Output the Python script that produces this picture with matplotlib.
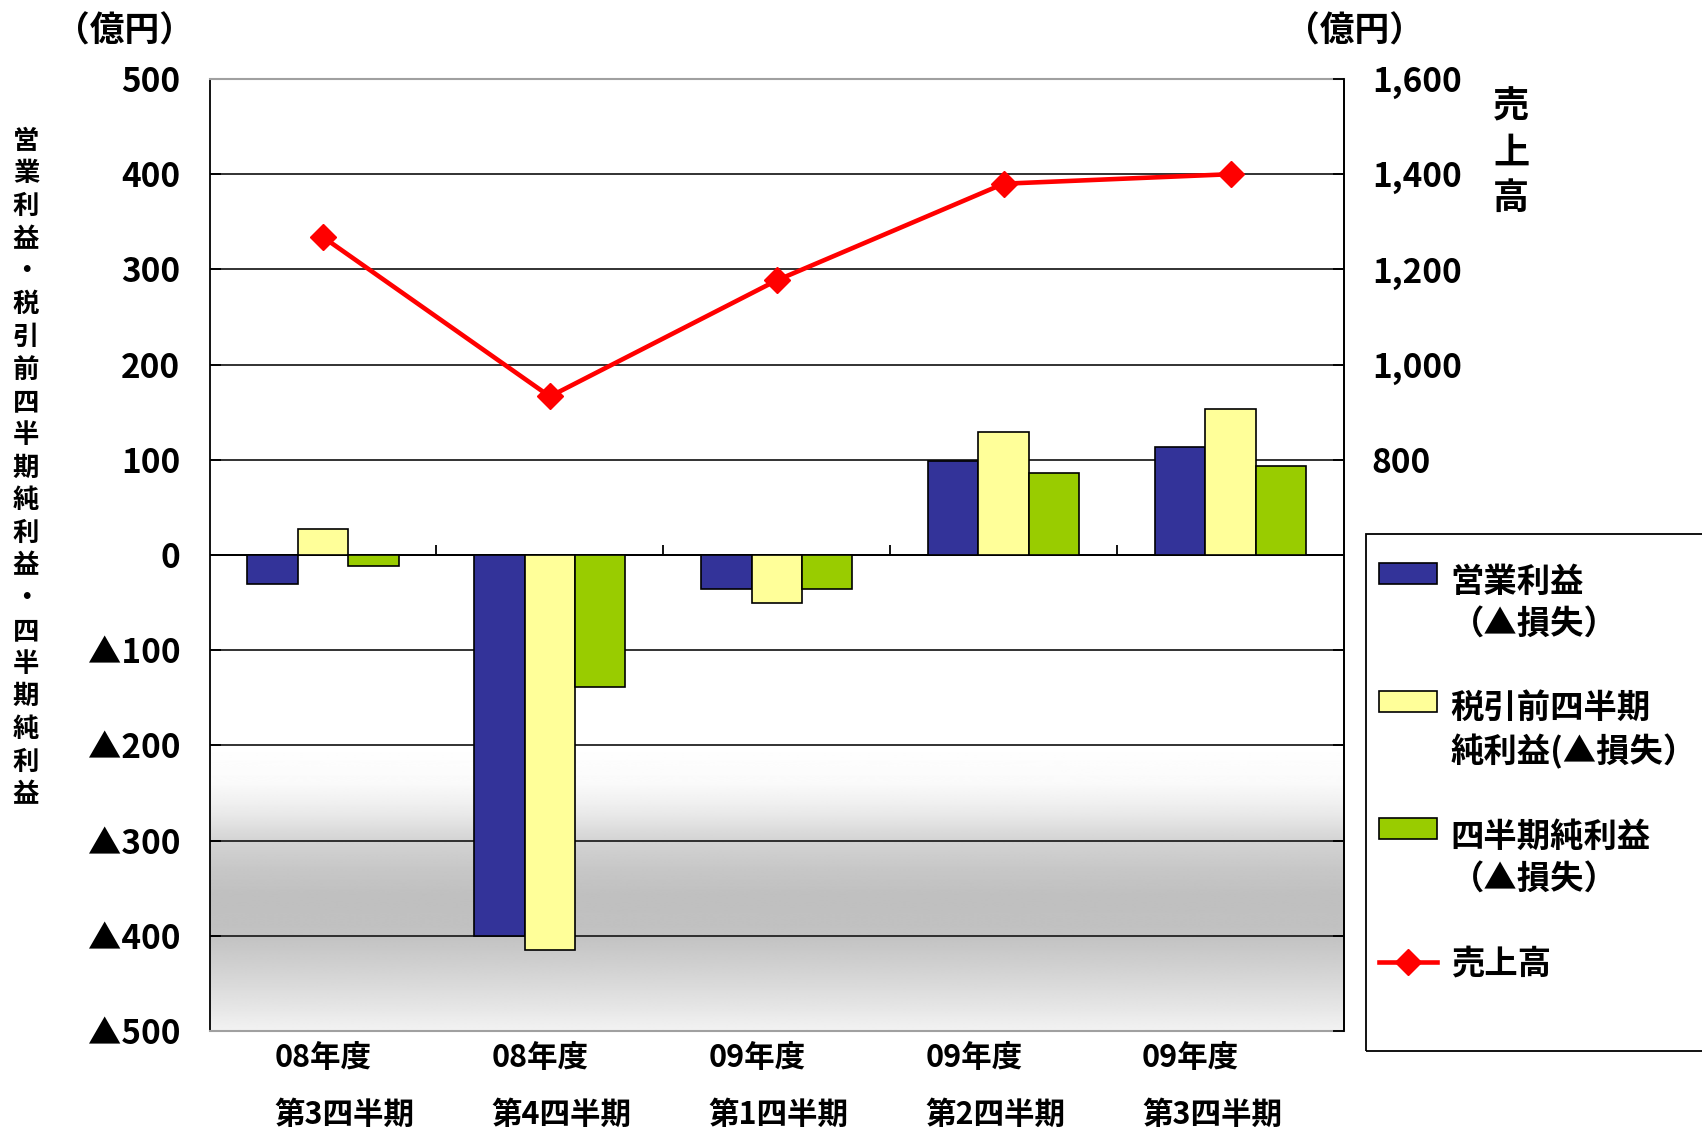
import numpy as np
import matplotlib
matplotlib.use("Agg")
import matplotlib.pyplot as plt
from matplotlib.patches import Rectangle
from matplotlib.ticker import FuncFormatter
from matplotlib.legend_handler import HandlerPatch

plt.rcParams['font.family'] = ['Noto Sans CJK JP', 'DejaVu Sans']
plt.rcParams['font.weight'] = 'bold'

# ---- data ----
cat_year = ['08年度', '08年度', '09年度', '09年度', '09年度']
cat_quarter = ['第3四半期', '第4四半期', '第1四半期', '第2四半期', '第3四半期']
operating = [-30, -400, -36, 99, 113]
pretax = [27, -415, -50, 129, 153]
net = [-12, -139, -36, 86, 93]
sales = [1268, 933, 1177, 1380, 1400]
series_names = ['営業利益\n（▲損失）', '税引前四半期\n純利益(▲損失）', '四半期純利益\n（▲損失）', '売上高']
left_ticks = [500, 400, 300, 200, 100, 0, -100, -200, -300, -400, -500]
right_ticks = [-400, -200, 0, 200, 400, 600, 800, 1000, 1200, 1400, 1600]

# ---- style ----
c_blue, c_yellow, c_green, c_red = '#333399', '#FFFF99', '#99CC00', '#FF0000'
W, H = 1702, 1131
fig = plt.figure(figsize=(W / 100, H / 100), dpi=100)
ax = fig.add_axes([209.5 / W, 1 - 1031 / H, (1344 - 209.5) / W, (1031 - 79) / H])

n = len(cat_year)
x = np.arange(n)
ax.set_xlim(-0.5, n - 0.5)
ax.set_ylim(-500, 500)

# gradient background
stops_v = [-500, -450, -400, -360, -330, -300, -270, -240, -200]
stops_g = [0.95, 0.85, 0.76, 0.75, 0.78, 0.83, 0.92, 0.98, 1.0]
yy = np.linspace(-500, -200, 300)
gg = np.interp(yy, stops_v, stops_g)
img = np.repeat(gg[:, None], 2, axis=1)
ax.imshow(img, extent=[-0.5, n - 0.5, -500, -200], origin='lower', cmap='gray',
          vmin=0, vmax=1, aspect='auto', zorder=0, interpolation='bilinear')

# gridlines
ax.set_yticks(left_ticks)
ax.grid(axis='y', color='#222222', linewidth=1.3, zorder=1)
ax.set_axisbelow(True)
ax.axhline(0, color='black', linewidth=1.4, zorder=1.5)

bw = 0.222
bars = []
for k, (vals, col) in enumerate(zip([operating, pretax, net], [c_blue, c_yellow, c_green])):
    bc = ax.bar(x + (k - 1) * bw, vals, width=bw, color=col, edgecolor='black',
                linewidth=1.2, zorder=2, label=series_names[k])
    bars.append(bc)

# category boundary ticks on zero line
ax.vlines(x[:-1] + 0.5, 0, 11, color='black', linewidth=1.3, zorder=1.6)

ax.set_xticks([])
ax.tick_params(axis='y', direction='in', length=8, width=1.3, pad=21, labelsize=24)
ax.yaxis.set_major_formatter(FuncFormatter(lambda v, p: f'{int(v)}' if v >= 0 else f'▲{int(-v)}'))
for lab in ax.get_yticklabels():
    lab.set_fontweight('bold')

ax.spines['left'].set_color('black')
ax.spines['left'].set_linewidth(1.3)
ax.spines['right'].set_color('black')
ax.spines['right'].set_linewidth(1.3)
ax.spines['top'].set_color('#a0a0a0')
ax.spines['top'].set_linewidth(1.5)
ax.spines['bottom'].set_color('#a0a0a0')
ax.spines['bottom'].set_linewidth(1.5)

ax2 = ax.twinx()
ax2.set_ylim(-400, 1600)
ax2.set_yticks(right_ticks)
ax2.yaxis.set_major_formatter(FuncFormatter(lambda v, p: f'{int(v):,}' if v >= 800 else ''))
ax2.tick_params(axis='y', direction='in', length=8, width=1.3, pad=20, labelsize=24)
for lab in ax2.get_yticklabels():
    lab.set_fontweight('bold')
for s in ['left', 'top', 'bottom']:
    ax2.spines[s].set_visible(False)
ax2.spines['right'].set_color('black')
ax2.spines['right'].set_linewidth(1.3)
line, = ax2.plot(x, sales, color=c_red, linewidth=3.3, marker='D', markersize=13,
                 zorder=5, label=series_names[3])

# category labels (two lines, left-aligned block)
for i in range(n):
    xf = (253 - 193) / 1045 + i * 199.75 / 1045
    ax.text(xf, 1 - (1058 - 79) / 952, cat_year[i], transform=ax.transAxes,
            ha='left', va='center', fontsize=22, fontweight='bold', clip_on=False)
    ax.text(xf, 1 - (1115 - 79) / 952, cat_quarter[i], transform=ax.transAxes,
            ha='left', va='center', fontsize=22, fontweight='bold', clip_on=False)

# units
fig.text(125 / W, 1 - 31 / H, '（億円）', ha='center', va='center', fontsize=25, fontweight='bold')
fig.text(1354 / W, 1 - 31 / H, '（億円）', ha='center', va='center', fontsize=25, fontweight='bold')

# axis titles (stacked vertical)
left_title = '営業利益・税引前四半期純利益・四半期純利益'
fig.text(26 / W, 1 - 468 / H, '\n'.join(left_title), ha='center', va='center',
         fontsize=19, fontweight='bold', linespacing=1.27)
fig.text(1511 / W, 1 - 153 / H, '\n'.join('売上高'), ha='center', va='center',
         fontsize=26, fontweight='bold', linespacing=1.3)

# legend
class TopHandler(HandlerPatch):
    def __init__(self, shift):
        def pf(legend, orig_handle, xdescent, ydescent, width, height, fontsize):
            return Rectangle((-xdescent, -ydescent + shift), width, height)
        super().__init__(patch_func=pf)

fs = 24
bar_handles = [bc.patches[0] for bc in bars]
hmap = {h: TopHandler(0.92 * fs) for h in bar_handles}
leg = fig.legend(bar_handles + [line], series_names, loc='upper left',
                 bbox_to_anchor=(1379 / W, 1 - 566 / H),
                 frameon=False, borderpad=0, borderaxespad=0,
                 handlelength=1.75, handleheight=0.6, handletextpad=0.4, labelspacing=1.55,
                 prop={'weight': 'bold', 'size': fs}, handler_map=hmap)
for t in leg.get_texts():
    t.set_linespacing(1.32)
fig.patches.append(Rectangle((1366 / W, 1 - 1051 / H), 0.3, (1051 - 534) / H,
                             transform=fig.transFigure, fill=False, edgecolor='black',
                             linewidth=1.3))

fig.savefig('out.png', dpi=100)
